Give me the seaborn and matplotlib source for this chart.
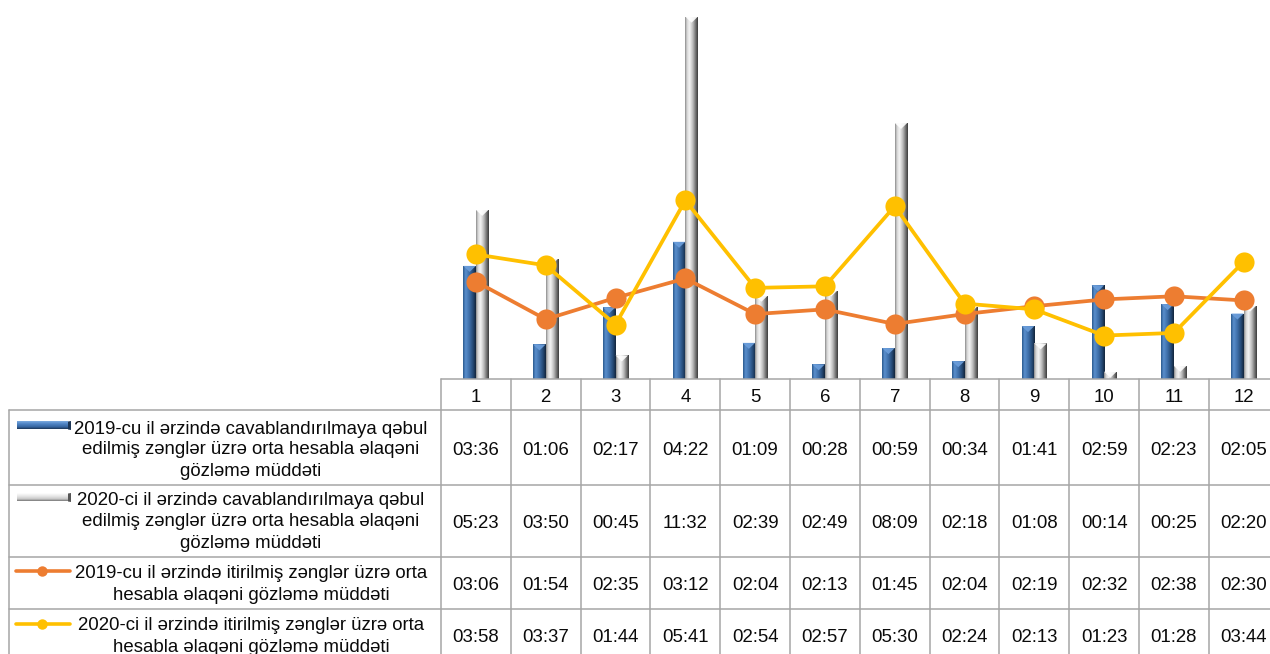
import numpy as np
import pandas as pd
import seaborn as sns
import matplotlib
matplotlib.use("Agg")
import matplotlib.pyplot as plt
from matplotlib.colors import LinearSegmentedColormap
from matplotlib.patches import Polygon
from matplotlib.lines import Line2D

# ---- data (average waiting time, mm:ss) ----
months = [str(i) for i in range(1, 13)]
unanswered_2019 = ["03:36", "01:06", "02:17", "04:22", "01:09", "00:28",
                   "00:59", "00:34", "01:41", "02:59", "02:23", "02:05"]
unanswered_2020 = ["05:23", "03:50", "00:45", "11:32", "02:39", "02:49",
                   "08:09", "02:18", "01:08", "00:14", "00:25", "02:20"]
lost_2019 = ["03:06", "01:54", "02:35", "03:12", "02:04", "02:13",
             "01:45", "02:04", "02:19", "02:32", "02:38", "02:30"]
lost_2020 = ["03:58", "03:37", "01:44", "05:41", "02:54", "02:57",
             "05:30", "02:24", "02:13", "01:23", "01:28", "03:44"]

series_names = [
    ["2019-cu il ərzində cavablandırılmaya qəbul",
     "edilmiş zənglər üzrə orta hesabla əlaqəni",
     "gözləmə müddəti"],
    ["2020-ci il ərzində cavablandırılmaya qəbul",
     "edilmiş zənglər üzrə orta hesabla əlaqəni",
     "gözləmə müddəti"],
    ["2019-cu il ərzində itirilmiş zənglər üzrə orta",
     "hesabla əlaqəni gözləmə müddəti"],
    ["2020-ci il ərzində itirilmiş zənglər üzrə orta",
     "hesabla əlaqəni gözləmə müddəti"],
]


def to_seconds(t):
    m, s = t.split(":")
    return int(m) * 60 + int(s)


BLUE = "#3E6FA8"
GRAY = "#BDBDBD"
ORANGE = "#ED7D31"
YELLOW = "#FFC000"
GRID = "#A6A6A6"
TEXT = "#0A0A0A"

sns.set_theme(style="white")
plt.rcParams["font.family"] = ["Liberation Sans", "DejaVu Sans"]

W, H = 1270, 654
fig = plt.figure(figsize=(W / 100, H / 100), dpi=100)

# plot area in pixel geometry
px_left, px_base, col_w, px_top = 441, 379, 69.8, 2
ax = fig.add_axes([px_left / W, 1 - px_base / H, 12 * col_w / W, (px_base - px_top) / H])
ax.set_facecolor("none")

bars = pd.DataFrame({
    "month": months * 2,
    "sec": [to_seconds(v) for v in unanswered_2019] + [to_seconds(v) for v in unanswered_2020],
    "series": ["2019"] * 12 + ["2020"] * 12,
})
sns.barplot(data=bars, x="month", y="sec", hue="series", order=months,
            hue_order=["2019", "2020"], palette=[BLUE, GRAY], width=0.36,
            saturation=1, legend=False, ax=ax, zorder=2, linewidth=0)

YMAX = 720
ax.set_xlim(-0.5, 11.5)
ax.set_ylim(0, YMAX)

# cylinder-like shading for the bars
blue_cmap = LinearSegmentedColormap.from_list(
    "b", [(0, "#2C5A8E"), (0.2, "#5A8FCD"), (0.5, "#3D6EA8"), (0.8, "#234670"), (1, "#13253B")])
gray_cmap = LinearSegmentedColormap.from_list(
    "g", [(0, "#8C8C8C"), (0.15, "#D6D6D6"), (0.35, "#F4F4F4"), (0.6, "#BEBEBE"),
          (0.85, "#6C6C6C"), (1, "#3C3C3C")])
grad = np.linspace(0, 1, 64).reshape(1, -1)
y_per_px = YMAX / (px_base - px_top)
for i, patch in enumerate(ax.patches):
    cmap, cap = (blue_cmap, "#6C9FDC") if i < 12 else (gray_cmap, "#FFFFFF")
    x0, y0 = patch.get_x(), patch.get_y()
    w, h = patch.get_width(), patch.get_height()
    if h <= 0:
        continue
    im = ax.imshow(grad, cmap=cmap, extent=[x0, x0 + w, y0, y0 + h],
                   aspect="auto", interpolation="bilinear", zorder=2)
    im.set_clip_path(patch)
    depth = min(6 * y_per_px, h)
    ax.add_patch(Polygon([(x0, y0 + h), (x0 + w, y0 + h), (x0 + w / 2, y0 + h - depth)],
                         closed=True, facecolor=cap, edgecolor="none", alpha=0.9, zorder=3))

ax.set_xlim(-0.5, 11.5)
ax.set_ylim(0, YMAX)

xs = np.arange(12)
sns.lineplot(x=xs, y=[to_seconds(v) for v in lost_2019], color=ORANGE, marker="o",
             markersize=14.5, markeredgewidth=0, linewidth=2.7, ax=ax, zorder=5)
sns.lineplot(x=xs, y=[to_seconds(v) for v in lost_2020], color=YELLOW, marker="o",
             markersize=14.5, markeredgewidth=0, linewidth=2.7, ax=ax, zorder=6)

ax.set_xlim(-0.5, 11.5)
ax.set_ylim(0, YMAX)
ax.set_xticks([])
ax.set_yticks([])
ax.set_xlabel("")
ax.set_ylabel("")
for s in ax.spines.values():
    s.set_visible(False)

# ---- data table drawn in pixel coordinates ----
tab = fig.add_axes([0, 0, 1, 1])
tab.set_xlim(0, W)
tab.set_ylim(H, 0)
tab.axis("off")

lw = 1.1
row_lines = [410, 485, 557, 609]
tab.plot([px_left, W], [px_base, px_base], color=GRID, lw=lw)
for y in row_lines:
    tab.plot([9, W], [y, y], color=GRID, lw=lw)
tab.plot([9, 9], [410, H], color=GRID, lw=lw)
col_edges = [px_left + k * col_w for k in range(13)]
for x in col_edges:
    tab.plot([x, x], [px_base, H], color=GRID, lw=lw)

FS = 13.4
centers = [px_left + (k + 0.5) * col_w for k in range(12)]
for x, m in zip(centers, months):
    tab.text(x, 401.5, m, ha="center", va="baseline", fontsize=FS, color=TEXT)

value_rows = [unanswered_2019, unanswered_2020, lost_2019, lost_2020]
value_base = [455, 527.5, 590, 642.5]
for vals, yb in zip(value_rows, value_base):
    for x, v in zip(centers, vals):
        tab.text(x, yb, v, ha="center", va="baseline", fontsize=FS, color=TEXT)

label_base = [[433.5, 454.5, 475.5], [505, 526.5, 548], [578.5, 599.5], [630, 651.5]]
for lines, ybs in zip(series_names, label_base):
    for line, yb in zip(lines, ybs):
        tab.text(251, yb, line, ha="center", va="baseline", fontsize=FS, color=TEXT)

# legend keys inside the row headers
vgrad = np.linspace(0, 1, 32).reshape(-1, 1)
key_blue = LinearSegmentedColormap.from_list(
    "kb", [(0, "#7BAAE0"), (0.35, "#4F84C4"), (0.75, "#3565A0"), (1, "#1C3656")])
key_gray = LinearSegmentedColormap.from_list(
    "kg", [(0, "#FFFFFF"), (0.4, "#E6E6E6"), (0.75, "#C8C8C8"), (1, "#777777")])
for (y0, y1), cm, tip in [((421.5, 429.5), key_blue, "#1C3656"), ((493.5, 501.5), key_gray, "#555555")]:
    tab.imshow(vgrad, cmap=cm, extent=[17, 68, y1, y0], aspect="auto",
               interpolation="bilinear", zorder=3)
    tab.add_patch(Polygon([(68, y0), (71, y0 - 0.5), (71, y1 + 0.5), (68, y1)],
                          closed=True, facecolor=tip, edgecolor="none", zorder=3))
tab.set_xlim(0, W)
tab.set_ylim(H, 0)

for y, c in [(571, ORANGE), (624, YELLOW)]:
    tab.add_line(Line2D([16, 70], [y, y], color=c, lw=2.6, zorder=3))
    tab.add_line(Line2D([42], [y], color=c, marker="o", markersize=7.5,
                        markeredgewidth=0, zorder=4))

fig.savefig("out.png", dpi=100)
